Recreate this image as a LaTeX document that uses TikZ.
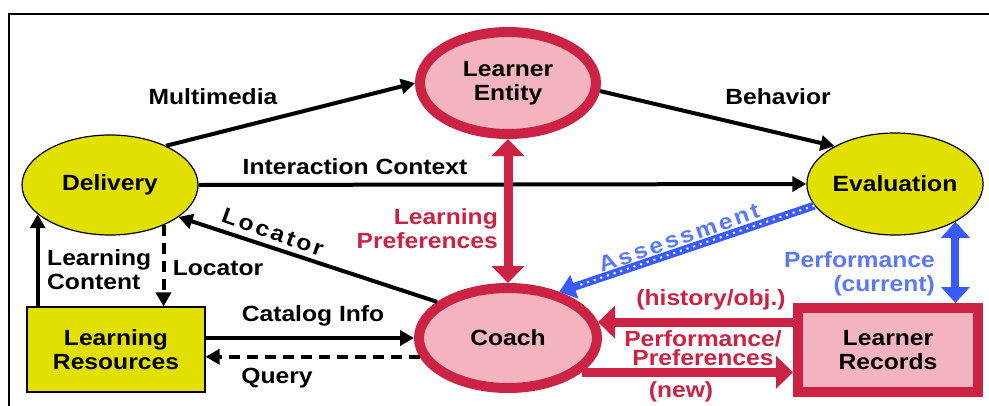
\documentclass[tikz,border=0pt]{standalone}
\usepackage{fontspec}
\setmainfont[FakeStretch=1.12]{Liberation Sans}
\newfontfamily\spacedfont[FakeStretch=1.12,LetterSpace=12]{Liberation Sans}
\usetikzlibrary{shapes.geometric,arrows.meta}

\definecolor{cred}{HTML}{CC2244}
\definecolor{cpink}{HTML}{F3B3BF}
\definecolor{cyellow}{HTML}{E2E000}
\definecolor{cblue}{HTML}{3A5CFF}
\definecolor{lblue}{HTML}{5A78FF}

\newcommand\lblfont{\fontsize{22}{24}\selectfont\bfseries}

\tikzset{
	lbl/.style={font=\lblfont, align=center, inner sep=0pt},
	ynode/.style={lbl, ellipse, draw=black, line width=1.2pt, fill=cyellow},
	rnode/.style={lbl, ellipse, draw=cred, line width=10pt, fill=cpink},
	arr/.style={line width=4pt, -{Triangle[width=15pt,length=14pt]}},
	dashline/.style={dash pattern=on 11pt off 7pt},
	redarr/.style={draw=cred, line width=9pt, -{Triangle[width=32pt,length=17pt]}},
	reddbl/.style={draw=cred, line width=9pt, {Triangle[width=32pt,length=17pt]}-{Triangle[width=32pt,length=17pt]}},
	bluedbl/.style={draw=cblue, line width=8pt, {Triangle[width=28pt,length=16pt]}-{Triangle[width=28pt,length=16pt]}},
	dotarr/.style={draw=cblue, line width=8pt, -{Triangle[width=24pt,length=16pt]},
		postaction={draw=white, -, line width=2pt, dash pattern=on 2pt off 5pt, shorten >=18pt}},
}

\begin{document}
\begin{tikzpicture}[x=1pt,y=-1pt]
	\useasboundingbox (0,0) rectangle (989,405);
	\draw[line width=1.5pt] (9,420) -- (9,14) -- (1000,14);

	\node[rnode, minimum width=176pt, minimum height=102pt] (le) at (508,83) {Learner\\Entity};
	\node[ynode, minimum width=176pt, minimum height=100pt] (del) at (110,185) {Delivery};
	\node[ynode, minimum width=174pt, minimum height=102pt] (eva) at (895,184) {Evaluation};
	\node[rnode, minimum width=178pt, minimum height=100pt] (coach) at (508,338) {Coach};
	\node[lbl, draw=black, line width=1.2pt, fill=cyellow, minimum width=178pt, minimum height=85pt] (lr) at (116,349.5) {Learning\\Resources};
	\node[lbl, draw=cred, line width=10pt, fill=cpink, minimum width=180pt, minimum height=84pt] (rec) at (888,350) {Learner\\Records};

	\draw[arr] (del.35) -- (le.west);
	\draw[arr] (le.-5) -- (eva.148);
	\draw[arr] (del.east) -- (eva.west);
	\draw[arr] (coach.153) -- (del.-25);
	\draw[arr] (del.202 |- lr.north) -- (del.202);
	\draw[arr, dashline] (del.-37) -- (del.-37 |- lr.north);
	\draw[arr] (coach.west -| lr.east) -- (coach.west);
	\draw[arr, dashline] (coach.192) -- (coach.192 -| lr.east);

	\draw[reddbl] (le.south) -- (coach.north);
	\draw[dotarr] (eva.195) -- (coach.42);
	\draw[bluedbl] (eva.-32) -- (eva.-32 |- rec.north);
	\draw[redarr] (coach.10 -| rec.west) -- (coach.10);
	\draw[redarr] (coach.-25) -- (coach.-25 -| rec.west);

	\node[lbl] (lmm) at (213,97) {Multimedia};
	\node[lbl] (lbeh) at (778,97) {Behavior};
	\node[lbl] (lint) at (355,167) {Interaction Context};
	\node[lbl, text=cred, align=right, anchor=east] (lpref) at (498,229) {Learning\\Preferences};
	\node[lbl, align=left, anchor=west] (lcont) at (47,270) {Learning\\Content};
	\node[lbl] (lloc) at (218,268) {Locator};
	\node[lbl, font=\spacedfont\lblfont, rotate=-19.6] (lloc2) at (273,232) {Locator};
	\node[lbl] (lcat) at (313,316) {Catalog Info};
	\node[lbl] (lq) at (277,378) {Query};
	\node[lbl, font=\spacedfont\lblfont, text=lblue, rotate=19.2] (lass) at (679,238) {Assessment};
	\node[lbl, text=lblue, align=right, anchor=east] (lperf) at (935,274) {Performance\\(current)};
	\node[lbl, text=cred] (lhist) at (711,300) {(history/obj.)};
	\node[lbl, text=cred, font=\fontsize{22}{19}\selectfont\bfseries] (lnewp) at (703,348) {Performance/\\Preferences};
	\node[lbl, text=cred] (lnew) at (681,392) {(new)};
\end{tikzpicture}
\end{document}
